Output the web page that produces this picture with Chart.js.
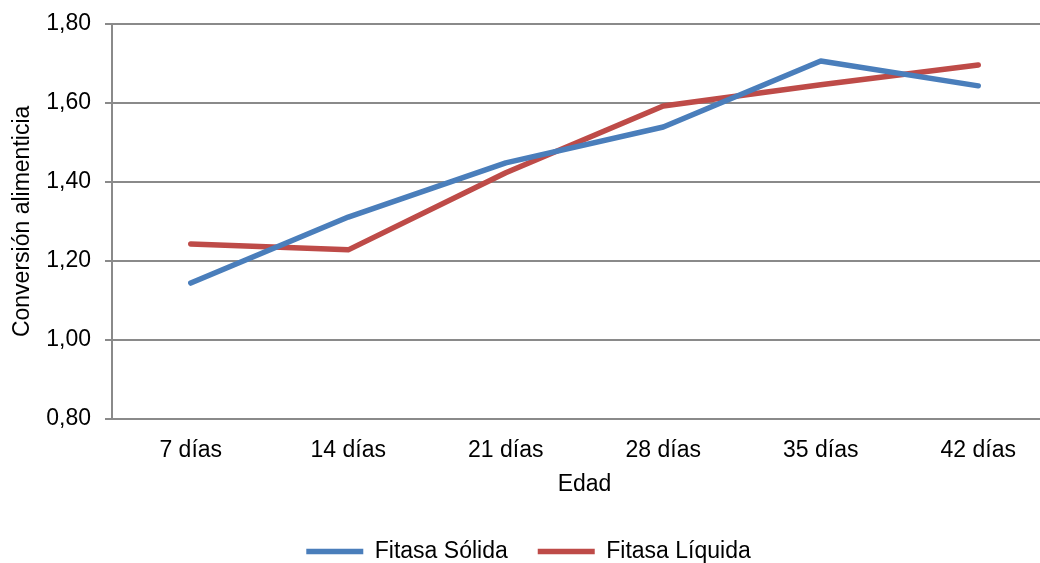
<!DOCTYPE html>
<html>
<head>
<meta charset="utf-8">
<script src="https://cdn.jsdelivr.net/npm/chart.js@4/dist/chart.umd.min.js"></script>
<style>
  html, body { margin: 0; padding: 0; background: #fff; overflow: hidden; }
  #wrap { width: 1071px; height: 579px; margin-top: -4px; }
</style>
</head>
<body>
<div id="wrap"><canvas id="lineChart" width="1071" height="579"></canvas></div>
<script>
// data
var edades = ['7 días', '14 días', '21 días', '28 días', '35 días', '42 días'];
var fitasaSolida = [1.144, 1.311, 1.448, 1.539, 1.706, 1.643];
var fitasaLiquida = [1.243, 1.228, 1.423, 1.592, 1.646, 1.696];
var yMin = 0.8, yMax = 1.8, yStep = 0.2;

var gridColor = '#8a8a8a';
var fuente = { family: '"Liberation Sans", Arial, sans-serif', size: 23 };

new Chart(document.getElementById('lineChart'), {
    type: 'line',
    data: {
        labels: edades,
        datasets: [
            {
                label: 'Fitasa Sólida',
                data: fitasaSolida,
                borderColor: '#4a7ebb',
                backgroundColor: '#4a7ebb',
                borderWidth: 5.5,
                borderCapStyle: 'round',
                borderJoinStyle: 'round',
                pointRadius: 0,
                tension: 0
            },
            {
                label: 'Fitasa Líquida',
                data: fitasaLiquida,
                borderColor: '#be4b48',
                backgroundColor: '#be4b48',
                borderWidth: 5.5,
                borderCapStyle: 'round',
                borderJoinStyle: 'round',
                pointRadius: 0,
                tension: 0
            }
        ]
    },
    options: {
        responsive: false,
        animation: false,
        devicePixelRatio: 1,
        layout: { padding: { top: 20, right: 14, left: 0, bottom: 2 } },
        plugins: {
            tooltip: { enabled: false },
            legend: {
                position: 'bottom',
                labels: {
                    usePointStyle: true,
                    pointStyle: 'line',
                    pointStyleWidth: 57,
                    color: '#000',
                    font: fuente,
                    padding: 30
                }
            }
        },
        scales: {
            x: {
                offset: true,
                grid: { display: false },
                border: { display: true, color: gridColor, width: 2 },
                ticks: { color: '#000', font: fuente, padding: 10, maxRotation: 0 },
                title: { display: true, text: 'Edad', color: '#000', font: fuente, padding: { top: 2, bottom: 12 } },
                afterFit: function (s) { s.height = 91; }
            },
            y: {
                min: yMin,
                max: yMax,
                grid: { color: gridColor, lineWidth: 2, tickLength: 7 },
                border: { display: true, color: gridColor, width: 2 },
                ticks: {
                    stepSize: yStep,
                    color: '#000',
                    font: fuente,
                    padding: 14,
                    callback: function (v) { return v.toFixed(2).replace('.', ','); }
                },
                title: { display: true, text: 'Conversión alimenticia', color: '#000', font: fuente, padding: { top: 9, bottom: 0 } },
                afterFit: function (s) { s.width = 112; }
            }
        }
    }
});
</script>
</body>
</html>
